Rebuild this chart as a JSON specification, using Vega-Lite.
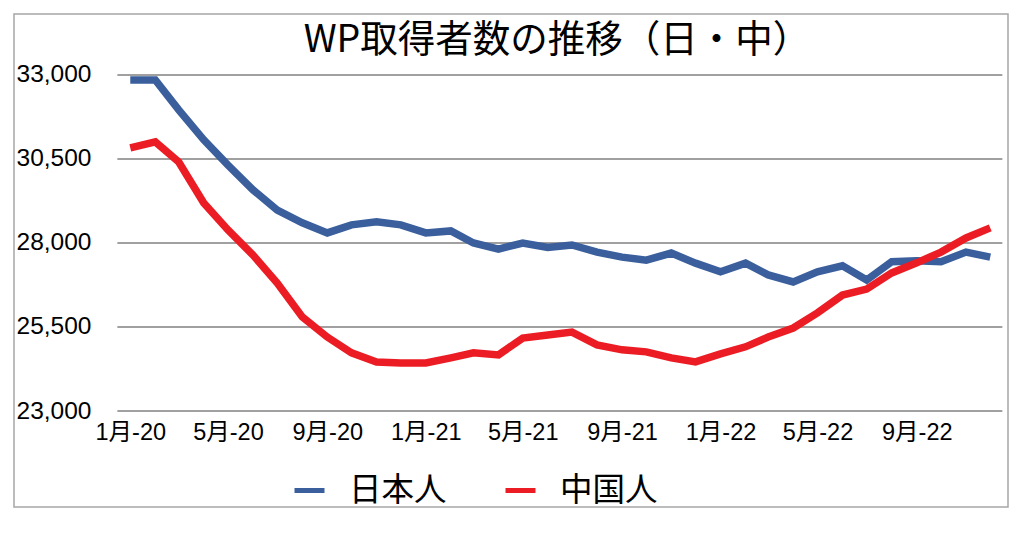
{
  "$schema": "https://vega.github.io/schema/vega-lite/v6.json",
  "width": 994,
  "height": 493,
  "autosize": {"type": "none"},
  "padding": {"left": 14, "top": 14, "right": 16, "bottom": 29},
  "background": "white",
  "config": {"view": {"stroke": "#a6a6a6", "strokeWidth": 1.5}},
  "title": {
    "text": "WP取得者数の推移（日・中）",
    "font": "Noto Sans CJK JP",
    "fontSize": 37.5,
    "fontWeight": "normal",
    "color": "#000000",
    "anchor": "middle",
    "dx": 46,
    "baseline": "top",
    "offset": -45
  },
  "resolve": {"axis": {"x": "independent", "y": "independent"}},
  "layer": [
    {
      "data": {
        "values": [
          {"value": 23000}, {"value": 25500}, {"value": 28000}, {"value": 30500}, {"value": 33000}
        ]
      },
      "mark": {"type": "rule", "color": "#a0a0a0", "strokeWidth": 2},
      "encoding": {
        "x": {
          "datum": {"year": 2019, "month": 12, "date": 16, "utc": true},
          "type": "temporal",
          "scale": {
            "type": "utc",
            "domain": [
              {"year": 2019, "month": 8, "date": 10, "utc": true},
              {"year": 2022, "month": 12, "date": 23, "utc": true}
            ]
          },
          "axis": null
        },
        "x2": {"datum": {"year": 2022, "month": 12, "date": 16, "utc": true}},
        "y": {
          "field": "value",
          "type": "quantitative",
          "scale": {"domain": [20143, 34815], "nice": false, "zero": false},
          "axis": null
        }
      }
    },
    {
      "data": {
        "values": [
          {"month": "2020-01-01", "日本人": 32850, "中国人": 30830},
          {"month": "2020-02-01", "日本人": 32850, "中国人": 31010},
          {"month": "2020-03-01", "日本人": 31960, "中国人": 30410},
          {"month": "2020-04-01", "日本人": 31070, "中国人": 29190},
          {"month": "2020-05-01", "日本人": 30320, "中国人": 28390},
          {"month": "2020-06-01", "日本人": 29580, "中国人": 27640},
          {"month": "2020-07-01", "日本人": 28980, "中国人": 26810},
          {"month": "2020-08-01", "日本人": 28600, "中国人": 25800},
          {"month": "2020-09-01", "日本人": 28300, "中国人": 25200},
          {"month": "2020-10-01", "日本人": 28540, "中国人": 24730},
          {"month": "2020-11-01", "日本人": 28630, "中国人": 24460},
          {"month": "2020-12-01", "日本人": 28540, "中国人": 24430},
          {"month": "2021-01-01", "日本人": 28300, "中国人": 24430},
          {"month": "2021-02-01", "日本人": 28360, "中国人": 24580},
          {"month": "2021-03-01", "日本人": 28000, "中国人": 24730},
          {"month": "2021-04-01", "日本人": 27820, "中国人": 24670},
          {"month": "2021-05-01", "日本人": 28000, "中国人": 25170},
          {"month": "2021-06-01", "日本人": 27870, "中国人": 25260},
          {"month": "2021-07-01", "日本人": 27940, "中国人": 25350},
          {"month": "2021-08-01", "日本人": 27730, "中国人": 24970},
          {"month": "2021-09-01", "日本人": 27580, "中国人": 24820},
          {"month": "2021-10-01", "日本人": 27490, "中国人": 24760},
          {"month": "2021-11-01", "日本人": 27700, "中国人": 24580},
          {"month": "2021-12-01", "日本人": 27400, "中国人": 24460},
          {"month": "2022-01-01", "日本人": 27140, "中国人": 24700},
          {"month": "2022-02-01", "日本人": 27400, "中国人": 24910},
          {"month": "2022-03-01", "日本人": 27050, "中国人": 25200},
          {"month": "2022-04-01", "日本人": 26840, "中国人": 25470},
          {"month": "2022-05-01", "日本人": 27140, "中国人": 25920},
          {"month": "2022-06-01", "日本人": 27320, "中国人": 26450},
          {"month": "2022-07-01", "日本人": 26900, "中国人": 26630},
          {"month": "2022-08-01", "日本人": 27440, "中国人": 27110},
          {"month": "2022-09-01", "日本人": 27470, "中国人": 27410},
          {"month": "2022-10-01", "日本人": 27440, "中国人": 27730},
          {"month": "2022-11-01", "日本人": 27730, "中国人": 28150},
          {"month": "2022-12-01", "日本人": 27580, "中国人": 28450}
        ]
      },
      "transform": [{"fold": ["日本人", "中国人"], "as": ["group", "value"]}],
      "mark": {"type": "line", "strokeWidth": 7.5, "strokeJoin": "miter", "strokeCap": "butt"},
      "encoding": {
        "x": {
          "field": "month",
          "type": "temporal",
          "scale": {
            "type": "utc",
            "domain": [
              {"year": 2019, "month": 8, "date": 10, "utc": true},
              {"year": 2022, "month": 12, "date": 23, "utc": true}
            ]
          },
          "axis": {
            "title": null,
            "values": [
              {"year": 2020, "month": 1, "date": 1, "utc": true},
              {"year": 2020, "month": 5, "date": 1, "utc": true},
              {"year": 2020, "month": 9, "date": 1, "utc": true},
              {"year": 2021, "month": 1, "date": 1, "utc": true},
              {"year": 2021, "month": 5, "date": 1, "utc": true},
              {"year": 2021, "month": 9, "date": 1, "utc": true},
              {"year": 2022, "month": 1, "date": 1, "utc": true},
              {"year": 2022, "month": 5, "date": 1, "utc": true},
              {"year": 2022, "month": 9, "date": 1, "utc": true}
            ],
            "labelExpr": "utcFormat(datum.value, '%-m月-%y')",
            "offset": -96,
            "labelPadding": 9,
            "ticks": false,
            "domain": false,
            "grid": false,
            "labelAngle": 0,
            "labelFlush": false,
            "labelOverlap": false,
            "labelFont": "Liberation Sans, Noto Sans CJK JP",
            "labelFontSize": 23.5,
            "labelColor": "#000000"
          }
        },
        "y": {
          "field": "value",
          "type": "quantitative",
          "scale": {"domain": [20143, 34815], "nice": false, "zero": false},
          "axis": {
            "title": null,
            "values": [23000, 25500, 28000, 30500, 33000],
            "labelExpr": "format(datum.value, ',')",
            "offset": -103,
            "labelPadding": 26,
            "ticks": false,
            "domain": false,
            "grid": false,
            "labelFont": "Liberation Sans",
            "labelFontSize": 24.5,
            "labelColor": "#000000"
          }
        },
        "color": {
          "field": "group",
          "type": "nominal",
          "sort": ["日本人", "中国人"],
          "scale": {"domain": ["日本人", "中国人"], "range": ["#3a5f9c", "#ec1c24"]},
          "legend": {
            "orient": "none",
            "legendX": 278,
            "legendY": 459,
            "direction": "horizontal",
            "title": null,
            "symbolType": "stroke",
            "symbolSize": 900,
            "symbolStrokeWidth": 5,
            "labelFont": "Noto Sans CJK JP",
            "labelFontSize": 32.5,
            "labelOffset": 22,
            "columnPadding": 48,
            "labelColor": "#000000",
            "padding": 0
          }
        }
      }
    }
  ]
}
